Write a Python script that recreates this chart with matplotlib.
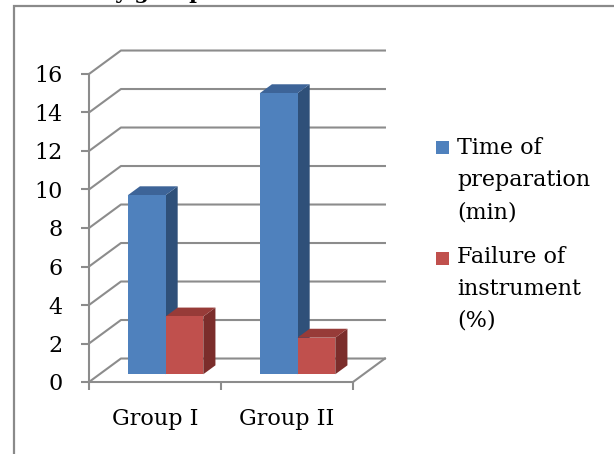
import matplotlib.pyplot as plt
from matplotlib.patches import Polygon, Rectangle

W, H = 614, 454

categories = ['Group I', 'Group II']
prep_time = [9.3, 14.6]
failure = [3.0, 1.9]
series_names = ['Time of\npreparation\n(min)', 'Failure of\ninstrument\n(%)']
y_ticks = [0, 2, 4, 6, 8, 10, 12, 14, 16]

# face colours: front, top, side
blue = ('#4f81bd', '#3d6498', '#2f5079')
red = ('#c0504d', '#973b38', '#7b2d2b')
grid_col = '#8c8c8c'

fig = plt.figure(figsize=(W / 100, H / 100), dpi=100)
plt.rcParams['font.family'] = 'DejaVu Serif'

def fx(px):
    return px / W

def fy(py):
    return 1 - py / H

# outer chart border (only left and top show)
fig.patches.append(Rectangle((fx(14), fy(460)), fx(640) - fx(14), fy(6) - fy(460),
                             transform=fig.transFigure, fill=False,
                             edgecolor='#8a8a8a', lw=1.6, clip_on=False))

# heading cut off at the top of the frame
fig.text(fx(15), fy(-1), 'two study groups', fontsize=15, fontweight='bold',
         va='baseline', ha='left')

ax = fig.add_axes([fx(89), 72 / H, 264 / W, 308 / H])
ax.set_xlim(0, 2)
ax.set_ylim(0, 16)
ax.patch.set_visible(False)

# oblique depth offset in data units
DX, DY = 0.242, 1.22

# back wall gridlines with side-wall diagonals
for v in y_ticks:
    ax.plot([0, DX, 2 + DX], [v, v + DY, v + DY], color=grid_col, lw=1.5,
            clip_on=False, zorder=1)
# right edge of the floor
ax.plot([2, 2 + DX], [0, DY], color=grid_col, lw=1.5, clip_on=False, zorder=1)

bw = 0.286
d0, d1 = 0.33, 0.71

def draw_bar(x0, h, cols, z):
    x1 = x0 + bw
    ox0, oy0 = d0 * DX, d0 * DY
    ox1, oy1 = d1 * DX, d1 * DY
    front = [(x0 + ox0, oy0), (x1 + ox0, oy0), (x1 + ox0, h + oy0), (x0 + ox0, h + oy0)]
    top = [(x0 + ox0, h + oy0), (x1 + ox0, h + oy0), (x1 + ox1, h + oy1), (x0 + ox1, h + oy1)]
    side = [(x1 + ox0, oy0), (x1 + ox0, h + oy0), (x1 + ox1, h + oy1), (x1 + ox1, oy1)]
    for pts, c in zip([side, top, front], [cols[2], cols[1], cols[0]]):
        ax.add_patch(Polygon(pts, closed=True, facecolor=c, edgecolor='none',
                             clip_on=False, zorder=z))

z = 3
for i in range(len(categories)):
    draw_bar(i + 0.5 - bw, prep_time[i], blue, z)
    z += 1
    draw_bar(i + 0.5, failure[i], red, z)
    z += 1

for s in ['top', 'right']:
    ax.spines[s].set_visible(False)
for s in ['left', 'bottom']:
    ax.spines[s].set_color(grid_col)
    ax.spines[s].set_linewidth(1.5)

ax.set_yticks(y_ticks)
ax.set_yticklabels([str(v) for v in y_ticks])
ax.tick_params(axis='y', length=6, width=1.5, color=grid_col, pad=13, labelsize=16)

ax.set_xticks([0, 1, 2])
ax.set_xticklabels([])
ax.set_xticks([0.5, 1.5], minor=True)
ax.set_xticklabels(categories, minor=True)
ax.tick_params(axis='x', which='major', length=6, width=1.5, color=grid_col)
ax.tick_params(axis='x', which='minor', length=0, pad=19, labelsize=16)

# legend
legend_rows = [(141, 148), (252, 257)]
for (sq_top, text_y), name, cols in zip(legend_rows, series_names, [blue, red]):
    fig.patches.append(Rectangle((fx(436), fy(sq_top + 13)), 13 / W, 13 / H,
                                 transform=fig.transFigure, facecolor=cols[0],
                                 edgecolor='none'))
    for k, line in enumerate(name.split('\n')):
        fig.text(fx(457), fy(text_y + 32 * k), line, fontsize=16,
                 ha='left', va='center')

fig.savefig('out.png', dpi=100)
